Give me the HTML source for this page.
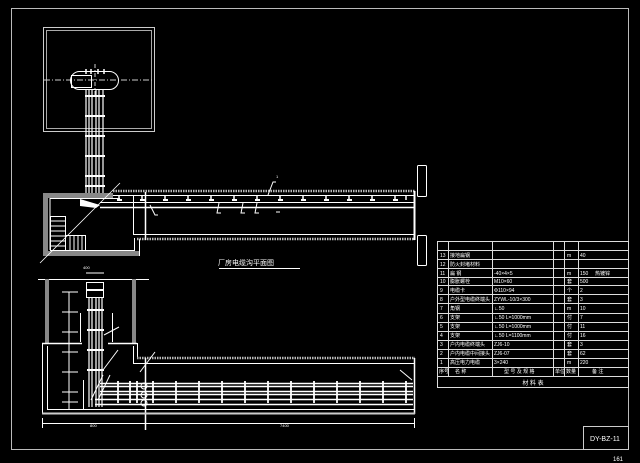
<!DOCTYPE html>
<html><head><meta charset="utf-8"><style>
html,body{margin:0;padding:0;background:#000;}
svg{display:block}
text{font-family:"Liberation Sans","Noto Sans CJK SC",sans-serif;fill:#fff}
</style></head><body>
<svg width="640" height="463" viewBox="0 0 640 463" xmlns="http://www.w3.org/2000/svg">
<rect width="640" height="463" fill="#000"/>
<g stroke="#fff" fill="none" stroke-width="1">
<rect x="11.5" y="8.5" width="617" height="441" stroke="#bbb"/>
<rect x="583.5" y="426.5" width="45" height="23" stroke="#ccc"/>
<rect x="43.5" y="27.5" width="111" height="104" stroke="#ccc"/>
<rect x="46.5" y="30.5" width="105" height="98" stroke="#aaa"/>
<line x1="44" y1="80" x2="154" y2="80" stroke-dasharray="6,2,1,2" stroke="#ccc"/>
<line x1="95" y1="64" x2="95" y2="96" stroke-dasharray="4,2,1,2" stroke="#ccc"/>
<rect x="70.5" y="71.5" width="48" height="18" rx="9" ry="9"/>
<rect x="71.5" y="75.5" width="20" height="12"/>
<g stroke-width="1.5"><line x1="86" y1="69" x2="86" y2="74"/><line x1="91" y1="69" x2="91" y2="74"/><line x1="98" y1="69" x2="98" y2="74"/><line x1="104" y1="69" x2="104" y2="74"/></g>
<g stroke-width="1.2">
<line x1="86" y1="89" x2="86" y2="197"/><line x1="89" y1="89" x2="89" y2="197"/><line x1="92" y1="89" x2="92" y2="197"/>
<line x1="96" y1="89" x2="96" y2="197"/><line x1="99" y1="89" x2="99" y2="197"/><line x1="103" y1="89" x2="103" y2="197"/>
</g>
<g stroke-width="2"><line x1="85" y1="96" x2="105" y2="96"/><line x1="85" y1="116" x2="105" y2="116"/><line x1="85" y1="136" x2="105" y2="136"/><line x1="85" y1="156" x2="105" y2="156"/><line x1="85" y1="176" x2="105" y2="176"/><line x1="85" y1="186" x2="105" y2="186"/></g>
<rect x="43" y="193" width="5" height="63" fill="#888" stroke="none"/>
<rect x="43" y="193" width="70" height="5" fill="#888" stroke="none"/>
<rect x="43" y="251" width="97" height="5" fill="#888" stroke="none"/>
<line x1="50" y1="198.5" x2="120" y2="198.5"/>
<line x1="50" y1="198" x2="50" y2="250"/>
<line x1="50" y1="250.5" x2="134" y2="250.5"/>
<line x1="134.5" y1="238" x2="134.5" y2="251"/>
<line x1="139.5" y1="239" x2="139.5" y2="256"/>
<rect x="50.5" y="216.5" width="15" height="34"/>
<g><line x1="50" y1="221" x2="65" y2="221"/><line x1="50" y1="226" x2="65" y2="226"/><line x1="50" y1="231" x2="65" y2="231"/><line x1="50" y1="236" x2="65" y2="236"/><line x1="50" y1="241" x2="65" y2="241"/><line x1="50" y1="246" x2="65" y2="246"/></g>
<rect x="65.5" y="235.5" width="20" height="15"/>
<g><line x1="70" y1="236" x2="70" y2="250"/><line x1="74" y1="236" x2="74" y2="250"/><line x1="78" y1="236" x2="78" y2="250"/><line x1="82" y1="236" x2="82" y2="250"/></g>
<line x1="120" y1="183" x2="40" y2="263" stroke-width="0.8"/>
<polygon points="80,199 100,205 96,208 80,206" fill="#fff" stroke="none"/>
<line x1="113" y1="191" x2="415" y2="191" stroke-width="2.5" stroke="#bbb" stroke-dasharray="1.5,1"/>
<line x1="113" y1="195.5" x2="415" y2="195.5"/>
<line x1="100" y1="202.5" x2="415" y2="202.5"/>
<line x1="100" y1="207.5" x2="415" y2="207.5" stroke-width="1.5"/>
<line x1="133" y1="234.5" x2="415" y2="234.5"/>
<line x1="137" y1="239" x2="415" y2="239" stroke-width="2.5" stroke="#bbb" stroke-dasharray="1.5,1"/>
<line x1="133.5" y1="195" x2="133.5" y2="235"/>
<line x1="145.5" y1="192" x2="145.5" y2="240" stroke-width="1.5"/>
<line x1="414.5" y1="191" x2="414.5" y2="240" stroke-width="2"/>
<rect x="417.5" y="165.5" width="9" height="31" rx="1"/>
<rect x="417.5" y="235.5" width="9" height="30" rx="1"/>
<g stroke-width="1.5">
<path d="M119 196v4M142 196v4M165 196v4M188 196v4M211 196v4M234 196v4M257 196v4M280 196v4M303 196v4M326 196v4M349 196v4M372 196v4M395 196v4M406 196v4"/>
</g>
<g stroke-width="2"><path d="M117 200h5M140 200h5M163 200h5M186 200h5M209 200h5M232 200h5M255 200h5M278 200h5M301 200h5M324 200h5M347 200h5M370 200h5M393 200h5"/></g>
<path d="M219 203l-2 10h4M243 203l-2 10h4M257 203l-2 10h4M276 212h4M268 195l5-13h3M150 205l5 10h3"/>
<line x1="219" y1="268.5" x2="300" y2="268.5"/>
<line x1="38" y1="279.5" x2="149" y2="279.5"/>
<rect x="45" y="279" width="4" height="64" fill="#888" stroke="none"/>
<rect x="132" y="279" width="4" height="64" fill="#888" stroke="none"/>
<line x1="42" y1="343.5" x2="82" y2="343.5" stroke-width="1.5"/>
<line x1="108" y1="343.5" x2="137" y2="343.5" stroke-width="1.5"/>
<line x1="42.5" y1="343" x2="42.5" y2="414"/>
<line x1="47.5" y1="346" x2="47.5" y2="410"/>
<line x1="137.5" y1="343" x2="137.5" y2="358"/>
<line x1="137" y1="358" x2="415" y2="358" stroke-width="2.5" stroke="#bbb" stroke-dasharray="1.5,1"/>
<line x1="133" y1="363.5" x2="415" y2="363.5"/>
<line x1="133.5" y1="346" x2="133.5" y2="363"/>
<line x1="145.5" y1="358" x2="145.5" y2="430" stroke-width="1.5"/>
<line x1="414.5" y1="358" x2="414.5" y2="414" stroke-width="1.5"/>
<line x1="42" y1="413.5" x2="415" y2="413.5" stroke-width="2" stroke="#ccc"/>
<line x1="48" y1="409.5" x2="415" y2="409.5"/>
<line x1="69" y1="292" x2="69" y2="410"/>
<path d="M62 292h16M62 312h16M62 332h16M62 352h16M62 372h16M62 392h16M62 402h16"/>
<line x1="80.5" y1="313" x2="80.5" y2="342"/>
<line x1="112.5" y1="313" x2="112.5" y2="342"/>
<line x1="83.5" y1="380" x2="83.5" y2="410"/>
<rect x="86.5" y="282.5" width="17" height="15"/>
<line x1="86" y1="273" x2="104" y2="273"/>
<g stroke-width="1.2"><path d="M89 297v110M92 297v110M96 297v110M99 297v110M102 297v110"/></g>
<g stroke-width="2"><path d="M87 310h17M87 330h17M87 350h17M87 370h17M87 290h17"/></g>
<path d="M103 375l-12 25M110 375l-12 25M103 370l15-20M140 372l15-20M104 335l15-8"/>
<g stroke-width="1.5">
<line x1="100" y1="383.5" x2="413" y2="383.5"/><line x1="100" y1="386.5" x2="413" y2="386.5"/>
<line x1="100" y1="391.5" x2="413" y2="391.5"/><line x1="100" y1="394.5" x2="413" y2="394.5"/>
<line x1="95" y1="399.5" x2="413" y2="399.5"/><line x1="95" y1="404.5" x2="413" y2="404.5"/>
</g>
<g stroke-width="1.8"><path d="M118 381v22M130 381v22M137 381v22M153 381v22M176 381v22M199 381v22M222 381v22M245 381v22M268 381v22M291 381v22M314 381v22M337 381v22M360 381v22M383 381v22M406 381v22"/></g>
<circle cx="144" cy="386" r="3"/><circle cx="144" cy="395" r="3"/><circle cx="144" cy="403" r="3"/>
<path d="M400 370l12 10"/>
<line x1="42" y1="423.5" x2="415" y2="423.5"/>
<path d="M42.5 418v10M145.5 418v10M414.5 418v10"/>
<g stroke="#ddd">
<rect x="437.5" y="241.5" width="191" height="146"/>
<path d="M437 250.5h191M437 259.5h191M437 268.5h191M437 277.5h191M437 285.5h191M437 294.5h191M437 303.5h191M437 313.5h191M437 322.5h191M437 331.5h191M437 340.5h191M437 349.5h191M437 358.5h191M437 367.5h191M437 376.5h191"/>
<path d="M448.5 241v135M492.5 241v135M553.5 241v135M564.5 241v135M578.5 241v135"/>
</g>
</g>
<g font-size="5">
<text x="246" y="265" font-size="7" text-anchor="middle">厂房电缆沟平面图</text>
<text x="590" y="441" font-size="7" fill="#ddd">DY-BZ-11</text>
<text x="613" y="461" font-size="6" fill="#ddd">161</text>
<text x="276" y="178" font-size="4">1</text>
<text x="90" y="427" font-size="4">800</text>
<text x="280" y="427" font-size="4">7400</text>
<text x="83" y="269" font-size="4">400</text>
<text x="440" y="257">13</text><text x="450" y="257">接地扁钢</text><text x="567" y="257">m</text><text x="580" y="257">40</text>
<text x="440" y="266">12</text><text x="450" y="266">防火封堵材料</text>
<text x="440" y="275">11</text><text x="450" y="275">扁 钢</text><text x="494" y="275">-40×4×5</text><text x="567" y="275">m</text><text x="580" y="275">150</text><text x="595" y="275">热镀锌</text>
<text x="440" y="283">10</text><text x="450" y="283">膨胀螺栓</text><text x="494" y="283">M10×60</text><text x="567" y="283">套</text><text x="580" y="283">500</text>
<text x="440" y="292">9</text><text x="450" y="292">电缆卡</text><text x="494" y="292">Φ110×94</text><text x="567" y="292">个</text><text x="580" y="292">2</text>
<text x="440" y="301">8</text><text x="450" y="301">户外型电缆终端头</text><text x="494" y="301">ZYWL-10/3×300</text><text x="567" y="301">套</text><text x="580" y="301">3</text>
<text x="440" y="310">7</text><text x="450" y="310">角钢</text><text x="494" y="310">∟50</text><text x="567" y="310">m</text><text x="580" y="310">10</text>
<text x="440" y="319">6</text><text x="450" y="319">支架</text><text x="494" y="319">∟50  L=1000mm</text><text x="567" y="319">付</text><text x="580" y="319">7</text>
<text x="440" y="328">5</text><text x="450" y="328">支架</text><text x="494" y="328">∟50  L=1000mm</text><text x="567" y="328">付</text><text x="580" y="328">11</text>
<text x="440" y="337">4</text><text x="450" y="337">支架</text><text x="494" y="337">∟50  L=1100mm</text><text x="567" y="337">付</text><text x="580" y="337">16</text>
<text x="440" y="346">3</text><text x="450" y="346">户内电缆终端头</text><text x="494" y="346">ZJ6-10</text><text x="567" y="346">套</text><text x="580" y="346">3</text>
<text x="440" y="355">2</text><text x="450" y="355">户内电缆中间接头</text><text x="494" y="355">ZJ6-07</text><text x="567" y="355">套</text><text x="580" y="355">62</text>
<text x="440" y="364">1</text><text x="450" y="364">高压电力电缆</text><text x="494" y="364">3×240</text><text x="567" y="364">m</text><text x="580" y="364">220</text>
<text x="439" y="373">序号</text><text x="455" y="373">名  称</text><text x="504" y="373">型 号 及 规 格</text><text x="555" y="373">单位</text><text x="566" y="373">数量</text><text x="592" y="373">备  注</text>
<text x="533" y="385" font-size="6" text-anchor="middle">材    料    表</text>
</g>
</svg>
</body></html>
